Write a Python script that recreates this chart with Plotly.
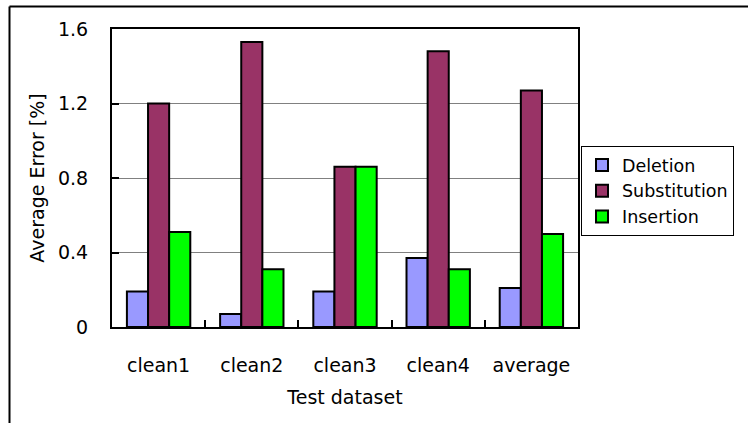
import plotly.graph_objects as go

categories = ["clean1", "clean2", "clean3", "clean4", "average"]
deletion = [0.19, 0.07, 0.19, 0.37, 0.21]
substitution = [1.20, 1.53, 0.86, 1.48, 1.27]
insertion = [0.51, 0.31, 0.86, 0.31, 0.50]
series_names = ["Deletion", "Substitution", "Insertion"]
colors = ["#9999FF", "#993366", "#00FF00"]

W, H = 748, 423
L, R, T, B = 112, 578, 29, 327
FONT = "DejaVu Sans, Liberation Sans, Arial"
FS = 19

fig = go.Figure()
for name, vals, col in zip(series_names, [deletion, substitution, insertion], colors):
    fig.add_trace(go.Bar(x=categories, y=vals, name=name, marker=dict(color=col, line=dict(color="black", width=2))))

pw = R - L
ph = B - T
def px2x(px):
    return (px - L) / pw
def py2y(py):
    return (B - py) / ph

fig.update_layout(
    width=W, height=H,
    margin=dict(l=L, r=W - R, t=T, b=H - B, pad=0),
    paper_bgcolor="white", plot_bgcolor="white",
    font=dict(family=FONT, size=FS, color="black"),
    barmode="group", bargap=0.32, bargroupgap=0,
    legend=dict(x=px2x(581), y=py2y(146), xanchor="left", yanchor="top",
                bordercolor="black", borderwidth=1, bgcolor="white",
                font=dict(family=FONT, size=17.5), tracegroupgap=0, itemwidth=30),
    showlegend=True,
)
fig.update_xaxes(
    showline=True, linecolor="black", linewidth=2, mirror=True,
    ticks="inside", tickson="boundaries", ticklen=7, tickcolor="black", tickwidth=2,
    tickfont=dict(family=FONT, size=FS),
    ticklabelstandoff=20,
    title=dict(text="Test dataset", standoff=16, font=dict(family=FONT, size=FS)),
    showgrid=False,
)
fig.update_yaxes(
    range=[0, 1.6],
    tickvals=[0, 0.4, 0.8, 1.2, 1.6], ticktext=["0", "0.4", "0.8", "1.2", "1.6"],
    showline=True, linecolor="black", linewidth=2, mirror=True,
    ticks="inside", ticklen=7, tickcolor="black", tickwidth=2,
    tickfont=dict(family=FONT, size=FS),
    ticklabelstandoff=18,
    showgrid=True, gridcolor="#808080", gridwidth=1,
    title=dict(text="Average Error [%]", standoff=8, font=dict(family=FONT, size=FS)),
    zeroline=False,
)
# outer chart frame (top and left visible)
fig.add_shape(type="line", xref="paper", yref="paper", x0=px2x(9.5), x1=px2x(760), y0=py2y(6.5), y1=py2y(6.5), line=dict(color="black", width=2))
fig.add_shape(type="line", xref="paper", yref="paper", x0=px2x(9.5), x1=px2x(9.5), y0=py2y(6.5), y1=py2y(440), line=dict(color="black", width=2))

fig.write_html("out.html")
